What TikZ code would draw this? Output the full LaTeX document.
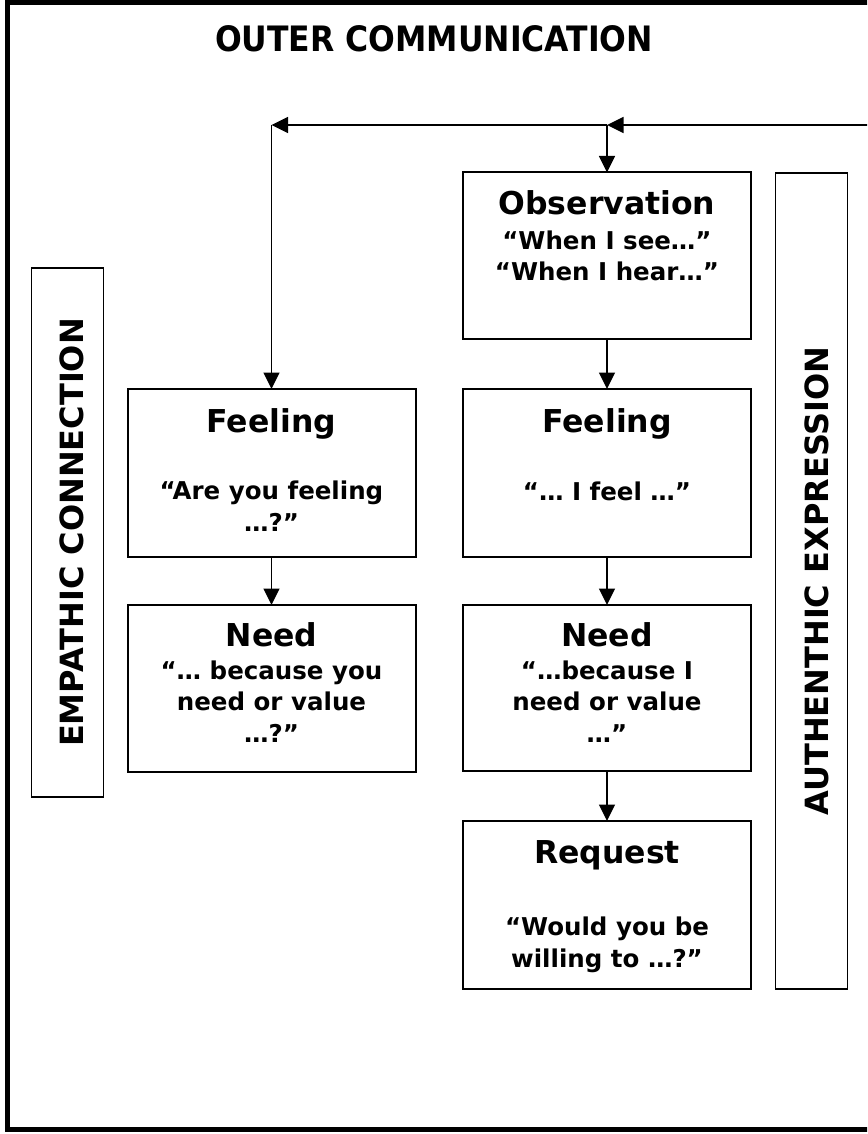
\documentclass[tikz,border=0pt]{standalone}
\usepackage{fontspec}
\setmainfont{DejaVu Sans}
\newfontfamily\condfont{DejaVu Sans Condensed}
\usetikzlibrary{arrows.meta,calc}

\begin{document}
\begin{tikzpicture}[x=1pt,y=-1pt]

\tikzset{
    box/.style={draw,line width=2pt,inner sep=0pt,outer sep=0pt,minimum width=288pt,minimum height=#1},
    side/.style={draw,line width=1.8pt,inner sep=0pt,outer sep=0pt,minimum width=72pt,minimum height=#1},
    head/.style={anchor=base,inner sep=0pt,font=\bfseries\fontsize{31.5}{33}\selectfont},
    say/.style={anchor=base,inner sep=0pt,align=center,font=\bfseries\fontsize{24.5}{31.5}\selectfont},
    upright/.style={rotate=90,inner sep=0pt,font=\bfseries\fontsize{32}{34}\selectfont},
    arr/.style={line width=1.7pt,-{Triangle[length=16.5pt,width=16pt]}}}

\useasboundingbox (0,0) rectangle (867,1134);
\clip (0,0) rectangle (867,1134);

% frame and title
\draw[line width=5pt] (7.5,3) rectangle (900,1129);
\node[inner sep=0pt,anchor=base,font=\condfont\bfseries\fontsize{35}{37}\selectfont] (T) at (434,52) {OUTER COMMUNICATION};

% side bars
\node[side=529pt] (E) at (67.5,532.5) {};
\node[upright] (Et) at ([xshift=4pt]E.center) {EMPATHIC CONNECTION};
\node[side=816pt] (A) at (811.5,581) {};
\node[upright] (At) at ([xshift=5pt]A.center) {AUTHENTHIC EXPRESSION};

% right column
\node[box=166.5pt] (O) at (607,255.75) {};
\node[box=168pt] (F2) at (607,473) {};
\node[box=166pt] (N2) at (607,688) {};
\node[box=168pt] (R) at (607,905) {};

% left column
\node[box=168pt] (F1) at (271.5,473) {};
\node[box=167pt] (N1) at (271.5,688.5) {};

% texts (base = last line)
\node[head] (Oh) at ([yshift=-41.5pt]O.north) {Observation};
\node[say] (Os) at ([yshift=-108pt]O.north) {“When I see…”\\“When I hear…”};

\node[head] (F2h) at ([yshift=-43pt]F2.north) {Feeling};
\node[say] (F2s) at ([yshift=-111pt]F2.north) {“… I feel …”};

\node[head] (N2h) at ([yshift=-41pt]N2.north) {Need};
\node[say] (N2s) at ([yshift=-137pt]N2.north) {“…because I\\need or value\\…”};

\node[head] (Rh) at ([yshift=-42pt]R.north) {Request};
\node[say] (Rs) at ([yshift=-146pt]R.north) {“Would you be\\willing to …?”};

\node[head] (F1h) at ([yshift=-43pt]F1.north) {Feeling};
\node[say] (F1s) at ([yshift=-142pt]F1.north) {“Are you feeling\\…?”};

\node[head] (N1h) at ([yshift=-41pt]N1.north) {Need};
\node[say] (N1s) at ([yshift=-137pt]N1.north) {“… because you\\need or value\\…?”};

% arrows
\coordinate (S) at (900,125);
\coordinate (J) at (O.north |- S);
\coordinate (K) at (F1.north |- S);

\draw[arr] (S) -- (J);
\draw[arr] (J) -- (K);
\draw[arr] (K) -- (F1.north);
\draw[arr] (J) -- (O.north);

\draw[arr] (O) -- (F2);
\draw[arr] (F2) -- (N2);
\draw[arr] (N2) -- (R);
\draw[arr] (F1) -- (N1);

\end{tikzpicture}
\end{document}
